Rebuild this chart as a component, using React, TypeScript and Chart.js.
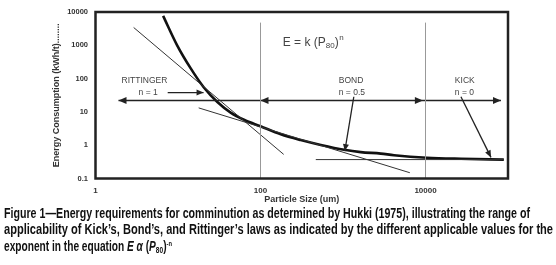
import React, { useEffect, useLayoutEffect, useRef } from 'react';
import { Chart, registerables } from 'chart.js';

Chart.register(...registerables);

// ---------- data ----------
const xTicks = [1, 100, 10000];
const yTicks = [0.1, 1, 10, 100, 1000, 10000];

// Hukki curve (particle size um, energy kWh/t)
const hukkiSize = [6.6, 9.8, 14.2, 20.6, 30, 43.5, 63, 100, 176, 307, 538, 1030, 1640, 2870, 4150, 10400, 27000, 89000];
const hukkiEnergy = [7650, 980, 206, 54, 19.8, 9.5, 5.8, 3.7, 2.13, 1.43, 1.02, 0.73, 0.62, 0.56, 0.5, 0.42, 0.39, 0.37];

// tangent lines
const rittingerSize = [2.9, 191];
const rittingerEnergy = [3430, 0.53];
const bondSize = [17.8, 6460];
const bondEnergy = [13.2, 0.149];
const kickSize = [468, 89000];
const kickEnergy = [0.37, 0.37];

// vertical range dividers
const dividerSize = [100, 10000];
const dividerEnergy = [0.1, 4800];

// range arrow
const rangeSize = [1.9, 82200];
const rangeEnergy = 22;
const rangeTipsLeft = [1.9, 100];
const rangeTipsRight = [9300, 82200];

// pointer arrows (from label to curve)
const pointerFromSize = [7.5, 1352, 26900];
const pointerFromEnergy = [38, 28.5, 28.5];
const pointerToSize = [20.4, 1052, 62200];
const pointerToEnergy = [38, 0.665, 0.43];

// labels
const labelText = ['RITTINGER', 'n = 1', 'BOND', 'n = 0.5', 'KICK', 'n = 0'];
const labelSize = [2.07, 3.33, 889, 889, 22700, 22700];
const labelEnergy = [86, 38, 84, 38, 86, 38];

const equationSize = 186;
const equationEnergy = 1200;

const captionLines = [
  'Figure 1\u2014Energy requirements for comminution as determined by Hukki (1975), illustrating the range of',
  'applicability of Kick\u2019s, Bond\u2019s, and Rittinger\u2019s laws as indicated by the different applicable values for the',
];
const captionWidths = [526, 549, 168];

const W = 556;
const H = 210;
const FONT = 'Arial, "Liberation Sans", Helvetica, sans-serif';

const pairs = (xs: number[], ys: number[]) => xs.map((x, i) => ({ x, y: ys[i] }));

function drawHead(ctx: CanvasRenderingContext2D, tx: number, ty: number, fx: number, fy: number, len = 7, half = 3) {
  const a = Math.atan2(ty - fy, tx - fx);
  ctx.save();
  ctx.translate(tx, ty);
  ctx.rotate(a);
  ctx.beginPath();
  ctx.moveTo(0, 0);
  ctx.lineTo(-len, -half);
  ctx.lineTo(-len, half);
  ctx.closePath();
  ctx.fillStyle = '#222';
  ctx.fill();
  ctx.restore();
}

const overlayPlugin = {
  id: 'overlay',
  afterDatasetsDraw(chart: any) {
    const { ctx, chartArea, scales } = chart;
    const xs = scales.x;
    const ys = scales.y;
    ctx.save();
    const ry = ys.getPixelForValue(rangeEnergy);
    rangeTipsLeft.forEach((v) => {
      const px = xs.getPixelForValue(v);
      drawHead(ctx, px, ry, px + 10, ry, 8, 3.5);
    });
    rangeTipsRight.forEach((v) => {
      const px = xs.getPixelForValue(v);
      drawHead(ctx, px, ry, px - 10, ry, 8, 3.5);
    });
    pointerToSize.forEach((v, i) => {
      const tx = xs.getPixelForValue(v);
      const ty = ys.getPixelForValue(pointerToEnergy[i]);
      const fx = xs.getPixelForValue(pointerFromSize[i]);
      const fy = ys.getPixelForValue(pointerFromEnergy[i]);
      drawHead(ctx, tx, ty, fx, fy, 7, 3);
    });
    ctx.fillStyle = '#444';
    ctx.textBaseline = 'middle';
    ctx.textAlign = 'left';
    ctx.font = '8.5px ' + FONT;
    labelText.forEach((t, i) => {
      ctx.fillText(t, xs.getPixelForValue(labelSize[i]), ys.getPixelForValue(labelEnergy[i]));
    });
    let ex = xs.getPixelForValue(equationSize);
    const ey = ys.getPixelForValue(equationEnergy);
    ctx.font = '12px ' + FONT;
    const seg1 = 'E = k (P';
    ctx.fillText(seg1, ex, ey);
    ex += ctx.measureText(seg1).width;
    ctx.font = '8px ' + FONT;
    ctx.fillText('80', ex, ey + 3);
    ex += ctx.measureText('80').width;
    ctx.font = '12px ' + FONT;
    ctx.fillText(')', ex, ey);
    ex += ctx.measureText(')').width;
    ctx.font = '8px ' + FONT;
    ctx.fillText('n', ex + 0.5, ey - 4.5);
    ctx.strokeStyle = '#222';
    ctx.lineWidth = 2.5;
    ctx.strokeRect(chartArea.left, chartArea.top, chartArea.right - chartArea.left, chartArea.bottom - chartArea.top);
    ctx.restore();
  },
};

function ChartCanvas() {
  const ref = useRef<HTMLCanvasElement>(null);
  useEffect(() => {
    if (!ref.current) return;
    const thin = { borderColor: '#333', borderWidth: 1, pointRadius: 0, fill: false, tension: 0 };
    const arrow = { borderColor: '#222', borderWidth: 1.5, pointRadius: 0, fill: false, tension: 0 };
    const chart = new Chart(ref.current, {
      type: 'line',
      data: {
        datasets: [
          { ...thin, borderColor: '#999', data: pairs([dividerSize[0], dividerSize[0]], dividerEnergy) },
          { ...thin, borderColor: '#999', data: pairs([dividerSize[1], dividerSize[1]], dividerEnergy) },
          { ...thin, data: pairs(rittingerSize, rittingerEnergy) },
          { ...thin, data: pairs(bondSize, bondEnergy) },
          { ...thin, data: pairs(kickSize, kickEnergy) },
          { ...arrow, data: pairs(rangeSize, [rangeEnergy, rangeEnergy]) },
          ...pointerFromSize.map((v, i) => ({
            ...arrow,
            borderWidth: 1.3,
            data: [
              { x: v, y: pointerFromEnergy[i] },
              { x: pointerToSize[i], y: pointerToEnergy[i] },
            ],
          })),
          {
            borderColor: '#111',
            borderWidth: 2.6,
            pointRadius: 0,
            fill: false,
            cubicInterpolationMode: 'monotone',
            data: pairs(hukkiSize, hukkiEnergy),
          },
        ] as any,
      },
      options: {
        animation: false,
        responsive: false,
        maintainAspectRatio: false,
        layout: { padding: { left: 0, top: 7, right: 48, bottom: 0 } },
        plugins: { legend: { display: false }, tooltip: { enabled: false } },
        scales: {
          x: {
            type: 'logarithmic',
            min: 1,
            max: 100000,
            grid: { display: false, drawTicks: false },
            border: { display: false },
            afterBuildTicks: (s: any) => {
              s.ticks = xTicks.map((v) => ({ value: v }));
            },
            afterFit: (s: any) => {
              s.height = H - 178.5;
            },
            ticks: {
              autoSkip: false,
              maxRotation: 0,
              padding: 7,
              color: '#333',
              font: { family: FONT, size: 8, weight: 'bold' },
              callback: (v: any) => String(v),
            },
            title: {
              display: true,
              text: 'Particle Size (um)',
              color: '#333',
              font: { family: FONT, size: 9, weight: 'bold' },
              padding: { top: 0, bottom: 5.5 },
            },
          },
          y: {
            type: 'logarithmic',
            min: 0.1,
            max: 10000,
            grid: { display: false, drawTicks: false },
            border: { display: false },
            afterBuildTicks: (s: any) => {
              s.ticks = yTicks.map((v) => ({ value: v }));
            },
            afterFit: (s: any) => {
              s.width = 95.5;
            },
            ticks: {
              autoSkip: false,
              padding: 7.5,
              color: '#333',
              font: { family: FONT, size: 7.5, weight: 'bold' },
              callback: (v: any) => String(v),
            },
            title: {
              display: true,
              text: 'Energy Consumption (kWh/t)........',
              color: '#333',
              font: { family: FONT, size: 9, weight: 'bold' },
              padding: { top: 51.6, bottom: 0 },
            },
          },
        },
      } as any,
      plugins: [overlayPlugin],
    });
    return () => chart.destroy();
  }, []);
  return <canvas ref={ref} width={W} height={H} style={{ position: 'absolute', left: 0, top: 0, width: W, height: H }} />;
}

function Caption() {
  const refs = useRef<(HTMLDivElement | null)[]>([]);
  useLayoutEffect(() => {
    refs.current.forEach((el, i) => {
      if (!el) return;
      el.style.transform = 'none';
      const w = el.getBoundingClientRect().width;
      if (w > 0) el.style.transform = `scaleX(${captionWidths[i] / w})`;
    });
  }, []);
  const lineStyle: React.CSSProperties = {
    display: 'inline-block',
    whiteSpace: 'nowrap',
    transformOrigin: '0 0',
  };
  const LH = 16.5;
  return (
    <div
      style={{
        position: 'absolute',
        left: 4,
        top: 204.5,
        font: `bold 14px ${FONT}`,
        lineHeight: `${LH}px`,
        color: '#111',
      }}
    >
      <div style={{ height: LH }}>
        <div ref={(e) => (refs.current[0] = e)} style={lineStyle}>{captionLines[0]}</div>
      </div>
      <div style={{ height: LH }}>
        <div ref={(e) => (refs.current[1] = e)} style={lineStyle}>{captionLines[1]}</div>
      </div>
      <div style={{ height: LH }}>
        <div ref={(e) => (refs.current[2] = e)} style={lineStyle}>
          exponent in the equation <i>E</i> <i>{'\u03b1'}</i> (<i>P</i>
          <sub style={{ fontSize: 9, verticalAlign: 'baseline', position: 'relative', top: 2 }}>80</sub>)
          <sup style={{ fontSize: 8, verticalAlign: 'baseline', position: 'relative', top: -5 }}>-n</sup>
        </div>
      </div>
    </div>
  );
}

export default function App() {
  return (
    <div style={{ position: 'absolute', left: 0, top: 0, width: W, height: 265, background: '#fff', overflow: 'hidden' }}>
      <ChartCanvas />
      <Caption />
    </div>
  );
}
